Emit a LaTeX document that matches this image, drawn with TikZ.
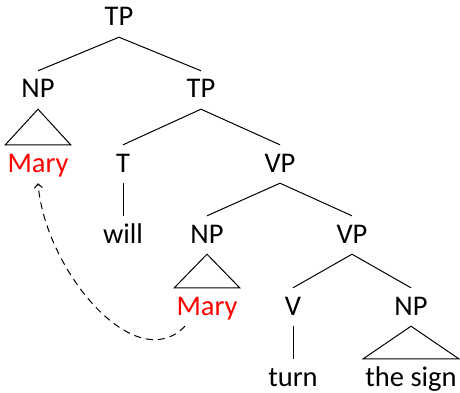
\documentclass[tikz,border=0pt]{standalone}
\usepackage{fontspec}
\setmainfont{Carlito}
\usepackage{tikz}
\usetikzlibrary{arrows.meta,calc,positioning}

\begin{document}
\begin{tikzpicture}[x=1pt,y=-1pt,
    cat/.style={inner xsep=2pt,inner ysep=0pt,text height=27pt,text depth=11pt,
      anchor=base,font=\fontsize{28.5}{30}\selectfont},
    moved/.style={cat,text=red},
    branch/.style={line width=1pt}]
  \useasboundingbox (0,0) rectangle (460,393);
  % Define nodes
  \node[cat] (TP) at (119,26) {TP};
  \node[cat] (NP) at (38,98) {NP};
  \node[cat] (TPb) at (201,98) {TP};
  \node[moved] (Mary) at (38,172) {Mary};
  \node[cat] (T) at (123,172) {T};
  \node[cat] (VP) at (280,172) {VP};
  \node[cat] (will) at (123,243) {will};
  \node[cat] (NPb) at (207,243) {NP};
  \node[cat] (VPb) at (352,243) {VP};
  \node[moved] (Maryb) at (207,315) {Mary};
  \node[cat] (V) at (293,315) {V};
  \node[cat] (NPc) at (411,315) {NP};
  \node[cat] (turn) at (293,386) {turn};
  \node[cat] (sign) at (411,386) {the sign};
  % Branches
  \draw[branch] (TP.south) -- (NP.north);
  \draw[branch] (TP.south) -- (TPb.north);
  \draw[branch] (TPb.south) -- (T.north);
  \draw[branch] (TPb.south) -- (VP.north);
  \draw[branch] (T.south) -- (will.north);
  \draw[branch] (VP.south) -- (NPb.north);
  \draw[branch] (VP.south) -- (VPb.north);
  \draw[branch] (VPb.south) -- (V.north);
  \draw[branch] (VPb.south) -- (NPc.north);
  \draw[branch] (V.south) -- (turn.north);
  % Triangles
  \draw[branch] (NP.south) -- (Mary.north west) -- (Mary.north east) -- cycle;
  \draw[branch] (NPb.south) -- (Maryb.north west) -- (Maryb.north east) -- cycle;
  \draw[branch] (NPc.south) -- (sign.north west) -- (sign.north east) -- cycle;
  % Movement
  \draw[line width=1pt,dash pattern=on 7pt off 5pt,-{Straight Barb[length=4pt,width=8pt]}]
    ($(Maryb.south)+(-22,0)$) .. controls (135,378) and (45,270) .. (Mary.south);
\end{tikzpicture}
\end{document}
